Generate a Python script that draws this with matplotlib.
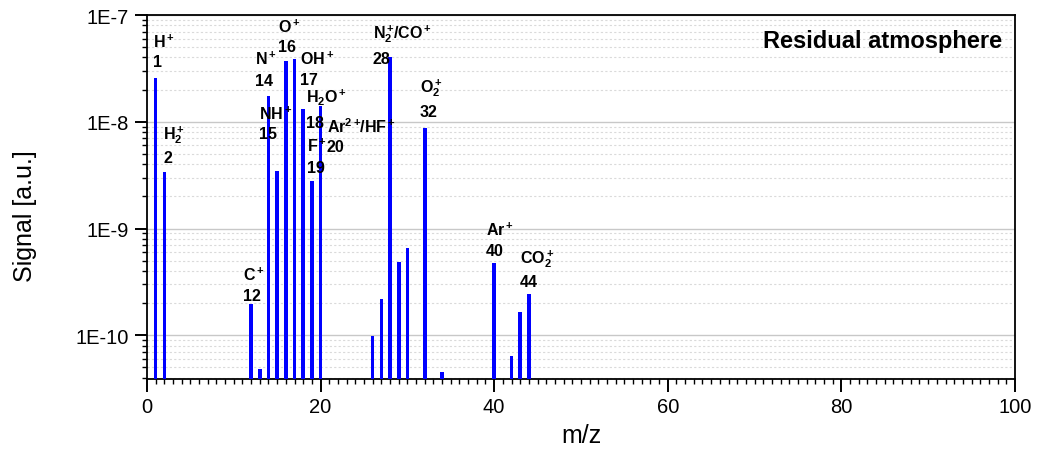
import numpy as np
import matplotlib
matplotlib.use('Agg')
import matplotlib.pyplot as plt
from matplotlib.ticker import MultipleLocator, LogLocator, FuncFormatter, NullFormatter

plt.rcParams['font.family'] = ['Liberation Sans', 'DejaVu Sans']
plt.rcParams['mathtext.fontset'] = 'custom'
plt.rcParams['mathtext.rm'] = 'Liberation Sans'
plt.rcParams['mathtext.bf'] = 'Liberation Sans:bold'
plt.rcParams['mathtext.it'] = 'Liberation Sans:italic'

# measured peaks
mz = [1, 2, 12, 13, 14, 15, 16, 17, 18, 19, 20,
      26, 27, 28, 29, 30, 32, 34, 40, 42, 43, 44]
signal = [2.56e-8, 3.39e-9, 1.95e-10, 4.84e-11, 1.76e-8, 3.43e-9, 3.69e-8,
          3.88e-8, 1.31e-8, 2.77e-9, 1.42e-8, 9.86e-11, 2.17e-10, 4.02e-8,
          4.84e-10, 6.64e-10, 8.73e-9, 4.58e-11, 4.71e-10, 6.41e-11,
          1.65e-10, 2.45e-10]

# peak assignments
species = ['H^+', 'H_2^+', 'C^+', 'N^+', 'NH^+', 'O^+', 'OH^+', 'H_2O^+',
           'F^+', r'Ar^{2+}\!/HF^+', r'N_2^+\!/CO^+', 'O_2^+', 'Ar^+', 'CO_2^+']
species_mz = [1, 2, 12, 14, 15, 16, 17, 18, 19, 20, 28, 32, 40, 44]

# label placement (x in m/z, baselines in signal units)
label_x = [0.73, 1.88, 11.03, 12.44, 12.96, 15.15, 17.63, 18.28, 18.40,
           20.70, 25.99, 31.45, 39.02, 42.97]
label_y = [5.02e-8, 6.94e-9, 3.27e-10, 3.48e-8, 1.07e-8, 6.94e-8, 3.48e-8,
           1.54e-8, 5.36e-9, 8.07e-9, 6.10e-8, 1.91e-8, 8.79e-10, 4.81e-10]
number_y = [3.34e-8, 4.23e-9, 2.12e-10, 2.22e-8, 7.09e-9, 4.61e-8, 2.26e-8,
            8.98e-9, 3.41e-9, 5.36e-9, 3.56e-8, 1.14e-8, 5.60e-10, 2.87e-10]

fig = plt.figure(figsize=(10.38, 4.56), dpi=100)
ax = fig.add_axes([0.1416, 0.1667, 0.8362, 0.7982])

ax.bar(mz, signal, width=0.42, color='#0000ff', zorder=3)

ax.set_yscale('log')
ax.set_xlim(0, 100)
ax.set_ylim(3.9e-11, 1e-7)

ax.xaxis.set_major_locator(MultipleLocator(20))
ax.xaxis.set_minor_locator(MultipleLocator(1))
ax.yaxis.set_major_locator(LogLocator(base=10))
ax.yaxis.set_minor_locator(LogLocator(base=10, subs=np.arange(2, 10)))
ax.yaxis.set_major_formatter(FuncFormatter(lambda v, p: f"1E{int(round(np.log10(v)))}"))
ax.yaxis.set_minor_formatter(NullFormatter())

ax.tick_params(which='both', direction='out', top=False, right=False, labelsize=14.5)
ax.tick_params(which='major', length=9, width=1.4, pad=4)
ax.tick_params(which='minor', length=3.5, width=1.0)
for s in ax.spines.values():
    s.set_linewidth(1.3)

ax.set_axisbelow(True)
ax.yaxis.grid(True, which='major', color='#c8c8c8', lw=1.0, ls='-')
ax.yaxis.grid(True, which='minor', color='#dadada', lw=0.8, ls=(0, (2, 2)))

ax.set_xlabel('m/z', fontsize=18, labelpad=5)
ax.set_ylabel('Signal [a.u.]', fontsize=18)
ax.yaxis.set_label_coords(-0.127, 0.45)

for sp, m, x, y1, y2 in zip(species, species_mz, label_x, label_y, number_y):
    ax.text(x, y1, r'$\mathbf{' + sp + '}$', fontsize=11.5, va='baseline', ha='left', zorder=4)
    ax.text(x, y2, str(m), fontsize=11.5, fontweight='bold', va='baseline', ha='left', zorder=4)

ax.text(0.9847, 0.912, 'Residual atmosphere', transform=ax.transAxes,
        fontsize=17, fontweight='bold', ha='right', va='baseline')

fig.savefig('out.png', dpi=100)
